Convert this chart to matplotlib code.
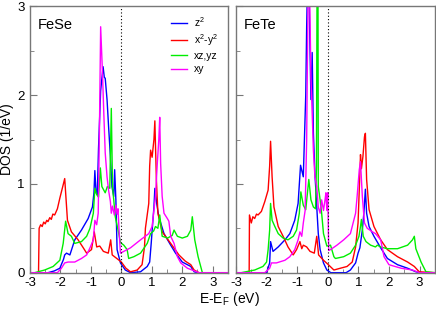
import matplotlib
matplotlib.use('Agg')
import matplotlib.pyplot as plt

plt.rcParams['font.family'] = ['Liberation Sans', 'DejaVu Sans']
plt.rcParams['mathtext.fontset'] = 'custom'
plt.rcParams['mathtext.rm'] = 'Liberation Sans'
plt.rcParams['mathtext.it'] = 'Liberation Sans:italic'
plt.rcParams['axes.unicode_minus'] = False

# ---- data: energy (eV) and DOS (1/eV) ----
panels = ['FeSe', 'FeTe']
orbitals = [r'z$\mathregular{^2}$', r'x$\mathregular{^2}$-y$\mathregular{^2}$', 'xz,yz', 'xy']
colors = ['#0000ff', '#ff0000', '#00ee00', '#ff00ff']

fese_z2_e = [-3, -2.41, -2.2, -2.02, -1.9, -1.86, -1.80, -1.69, -1.53, -1.31, -1.09, -0.95, -0.90, -0.87,
             -0.83, -0.79, -0.75, -0.68, -0.60, -0.56, -0.53, -0.47, -0.42, -0.36, -0.31, -0.25, -0.22,
             -0.18, -0.14, -0.03, 0.13, 0.30, 0.63, 0.85, 0.93, 0.98, 1.01, 1.07, 1.10, 1.16, 1.23, 1.40,
             1.62, 1.78, 2.0, 2.28, 2.39, 2.5, 3.5]
fese_z2_d = [0, 0, 0.02, 0.05, 0.15, 0.20, 0.22, 0.20, 0.37, 0.48, 0.61, 0.74, 0.90, 1.15,
             0.90, 0.88, 1.40, 2.05, 2.32, 2.20, 2.19, 1.95, 1.65, 1.31, 0.97, 0.86, 1.16,
             0.82, 0.26, 0.11, 0.03, 0, 0.01, 0.07, 0.12, 0.33, 0.47, 0.74, 0.95, 0.78, 0.63, 0.44,
             0.31, 0.22, 0.12, 0.07, 0.01, 0, 0]

fese_x2y2_e = [-3.0, -2.72, -2.70, -2.65, -2.6, -2.55, -2.5, -2.45, -2.41, -2.35, -2.3, -2.25, -2.19, -2.1,
               -2.02, -1.91, -1.86, -1.82, -1.77, -1.64, -1.42, -1.25, -1.14, -0.98, -0.89, -0.81, -0.71,
               -0.59, -0.43, -0.35, -0.30, -0.15, 0.0, 0.15, 0.30, 0.52, 0.68, 0.76, 0.79, 0.90, 0.93, 0.96,
               1.01, 1.07, 1.10, 1.15, 1.20, 1.34, 1.62, 1.89, 2.1, 2.28, 2.39, 2.55, 3.5]
fese_x2y2_d = [0, 0, 0.50, 0.54, 0.52, 0.57, 0.55, 0.59, 0.575, 0.62, 0.60, 0.66, 0.65, 0.72,
               0.84, 0.99, 1.06, 0.85, 0.59, 0.46, 0.37, 0.28, 0.22, 0.26, 0.46, 0.29, 0.30,
               0.24, 0.22, 0.37, 0.20, 0.16, 0.12, 0.05, 0.01, 0.03, 0.09, 0.29, 0.50, 0.78, 1.20, 1.38,
               1.30, 1.50, 1.71, 1.05, 0.67, 0.46, 0.33, 0.20, 0.13, 0.09, 0.03, 0, 0]

fese_xzyz_e = [-3, -2.85, -2.52, -2.24, -2.02, -1.91, -1.83, -1.75, -1.64, -1.53, -1.31, -1.14, -1.03, -0.92,
               -0.87, -0.81, -0.75, -0.69, -0.64, -0.53, -0.46, -0.38, -0.33, -0.29, -0.20, -0.09, -0.03,
               0.08, 0.19, 0.24, 0.41, 0.63, 0.85, 0.96, 1.06, 1.12, 1.20, 1.26, 1.34, 1.52, 1.67, 1.73,
               1.84, 2.0, 2.17, 2.28, 2.33, 2.41, 2.52, 2.66, 3.5]
fese_xzyz_d = [0, 0, 0.03, 0.07, 0.14, 0.33, 0.58, 0.44, 0.41, 0.33, 0.35, 0.41, 0.50, 0.67,
               0.95, 0.88, 0.85, 1.18, 0.97, 0.90, 0.97, 0.95, 1.85, 0.97, 0.63, 0.45, 0.34,
               0.31, 0.26, 0.16, 0.18, 0.22, 0.33, 0.44, 0.47, 0.52, 0.50, 0.65, 0.41, 0.39, 0.42, 0.48,
               0.41, 0.39, 0.41, 0.48, 0.63, 0.37, 0.18, 0, 0]

fese_xy_e = [-3, -2.1, -1.97, -1.86, -1.75, -1.53, -1.31, -1.14, -1.03, -0.92, -0.87, -0.81, -0.76, -0.72,
             -0.68, -0.62, -0.58, -0.53, -0.47, -0.42, -0.36, -0.33, -0.29, -0.23, -0.18, -0.14, -0.11,
             -0.07, -0.03, 0.30, 0.63, 0.90, 1.01, 1.12, 1.18, 1.23, 1.26, 1.29, 1.34, 1.40, 1.51, 1.56,
             1.62, 1.73, 1.84, 1.95, 2.17, 2.4, 2.55, 3.5]
fese_xy_d = [0, 0, 0.05, 0.11, 0.12, 0.12, 0.16, 0.20, 0.28, 0.37, 0.59, 0.54, 0.67, 1.6,
             2.77, 2.25, 1.83, 1.35, 1.08, 0.93, 0.80, 0.67, 0.75, 0.65, 0.76, 0.66, 0.72,
             0.44, 0.22, 0.28, 0.37, 0.44, 0.52, 0.86, 1.23, 1.50, 1.75, 1.23, 0.86, 0.67, 0.61, 0.58,
             0.41, 0.33, 0.18, 0.11, 0.05, 0.02, 0, 0]

fete_z2_e = [-3, -2.0, -1.9, -1.87, -1.79, -1.62, -1.40, -1.24, -1.08, -0.97, -0.89, -0.80, -0.72, -0.69,
             -0.66, -0.62, -0.58, -0.55, -0.51, -0.47, -0.42, -0.36, -0.31, -0.25, -0.14, -0.03, 0.1,
             0.6, 0.74, 0.91, 0.99, 1.05, 1.13, 1.18, 1.23, 1.27, 1.35, 1.51, 1.73, 1.95, 2.28, 2.61,
             2.88, 3.0, 3.5]
fete_z2_d = [0, 0, 0.11, 0.35, 0.24, 0.29, 0.37, 0.44, 0.59, 0.78, 1.21, 1.08, 2.0, 2.77,
             3.3, 3.3, 2.51, 1.95, 2.48, 1.57, 1.12, 0.74, 0.44, 0.26, 0.11, 0.03, 0,
             0, 0.03, 0.11, 0.22, 0.28, 0.48, 0.67, 0.94, 0.67, 0.52, 0.41, 0.28, 0.16, 0.09, 0.05,
             0.01, 0, 0]

fete_x2y2_e = [-3, -2.57, -2.56, -2.5, -2.45, -2.39, -2.33, -2.28, -2.17, -2.06, -1.95, -1.90, -1.87, -1.82,
               -1.76, -1.62, -1.46, -1.30, -1.13, -1.02, -0.91, -0.85, -0.80, -0.69, -0.58, -0.44, -0.36,
               -0.30, -0.14, 0.02, 0.2, 0.41, 0.63, 0.80, 0.91, 0.99, 1.05, 1.07, 1.10, 1.15, 1.20, 1.23,
               1.27, 1.35, 1.51, 1.73, 1.95, 2.28, 2.61, 2.83, 2.99, 3.5]
fete_x2y2_d = [0, 0, 0.65, 0.56, 0.63, 0.61, 0.66, 0.65, 0.69, 0.80, 0.93, 1.20, 1.48, 1.08,
               0.74, 0.52, 0.41, 0.29, 0.20, 0.26, 0.35, 0.27, 0.31, 0.29, 0.24, 0.22, 0.41,
               0.20, 0.14, 0.09, 0.03, 0.05, 0.07, 0.12, 0.29, 0.56, 1.12, 1.33, 1.17, 1.31, 1.53, 1.57,
               1.05, 0.71, 0.52, 0.37, 0.26, 0.18, 0.12, 0.07, 0.01, 0]

fete_xzyz_e = [-3, -2.83, -2.39, -2.12, -2.0, -1.95, -1.90, -1.87, -1.82, -1.73, -1.62, -1.46, -1.30, -1.13,
               -1.02, -0.93, -0.88, -0.80, -0.72, -0.62, -0.55, -0.47, -0.40, -0.37, -0.35, -0.32, -0.31,
               -0.25, -0.20, -0.14, -0.03, 0.09, 0.20, 0.25, 0.52, 0.74, 0.91, 1.02, 1.07, 1.10, 1.16, 1.25,
               1.40, 1.56, 1.62, 1.73, 1.95, 2.28, 2.61, 2.77, 2.83, 2.88, 3.05, 3.21, 3.5]
fete_xzyz_d = [0, 0, 0.03, 0.07, 0.12, 0.26, 0.48, 0.78, 0.59, 0.52, 0.44, 0.39, 0.37, 0.41,
               0.48, 0.67, 0.91, 0.76, 0.71, 1.05, 0.82, 0.74, 0.72, 1.2, 3.3, 3.3, 0.97,
               0.82, 0.67, 0.44, 0.30, 0.31, 0.18, 0.16, 0.18, 0.22, 0.31, 0.41, 0.52, 0.60, 0.41, 0.35,
               0.31, 0.29, 0.31, 0.29, 0.27, 0.27, 0.31, 0.37, 0.41, 0.27, 0.12, 0.01, 0]

fete_xy_e = [-3, -2.06, -1.9, -1.84, -1.68, -1.40, -1.24, -1.08, -0.97, -0.91, -0.85, -0.80, -0.74, -0.69,
             -0.64, -0.60, -0.55, -0.51, -0.47, -0.42, -0.36, -0.31, -0.25, -0.20, -0.14, -0.09, -0.06,
             -0.03, 0.0, 0.03, 0.09, 0.30, 0.52, 0.74, 0.91, 0.96, 1.03, 1.07, 1.13, 1.20, 1.29, 1.46,
             1.56, 1.73, 1.84, 2.0, 2.4, 2.77, 3.0, 3.5]
fete_xy_d = [0, 0, 0.05, 0.11, 0.11, 0.14, 0.18, 0.26, 0.37, 0.46, 0.41, 0.56, 0.70, 1.5,
             3.3, 3.3, 2.2, 1.8, 1.38, 1.08, 0.97, 0.74, 0.67, 0.82, 0.70, 0.82, 0.90,
             0.70, 0.90, 0.25, 0.26, 0.31, 0.37, 0.44, 0.67, 0.86, 1.16, 1.25, 0.86, 0.56, 0.50, 0.46,
             0.44, 0.37, 0.18, 0.09, 0.05, 0.03, 0, 0]

curves = {
    'FeSe': [(fese_z2_e, fese_z2_d), (fese_x2y2_e, fese_x2y2_d), (fese_xzyz_e, fese_xzyz_d), (fese_xy_e, fese_xy_d)],
    'FeTe': [(fete_z2_e, fete_z2_d), (fete_x2y2_e, fete_x2y2_d), (fete_xzyz_e, fete_xzyz_d), (fete_xy_e, fete_xy_d)],
}

fig = plt.figure(figsize=(4.36, 3.13), dpi=100)
ax1 = fig.add_axes([0.0688, 0.1288, 0.454, 0.851])
ax2 = fig.add_axes([0.5413, 0.1288, 0.456, 0.851])
frame_col = '#777777'

for ax, name in zip([ax1, ax2], panels):
    for (e, d), col, lab in zip(curves[name], colors, orbitals):
        ax.plot(e, d, color=col, lw=1.0, label=lab)
    ax.axvline(0, color='black', lw=0.8, ls=(0, (1, 2)))
    ax.set_xlim(-3, 3.5)
    ax.set_ylim(0, 3)
    ax.set_xticks([-3, -2, -1, 0, 1, 2, 3])
    ax.set_xticks([-2.5, -1.5, -0.5, 0.5, 1.5, 2.5], minor=True)
    ax.set_yticks([0, 1, 2, 3])
    ax.set_yticks([0.5, 1.5, 2.5], minor=True)
    ax.tick_params(which='both', direction='in', color=frame_col, labelsize=9.5)
    ax.tick_params(axis='x', pad=3)
    ax.tick_params(axis='y', pad=4)
    ax.tick_params(which='major', length=5)
    ax.tick_params(which='minor', length=3)
    for s in ax.spines.values():
        s.set_color(frame_col)
        s.set_linewidth(1.0)
    ax.text(0.04, 0.955, name, transform=ax.transAxes, fontsize=10.5, va='top', ha='left')

ax2.set_yticklabels([])
ax1.set_ylabel('DOS (1/eV)', fontsize=10, labelpad=2)
fig.text(0.527, 0.015, r'E-E$\mathregular{_F}$ (eV)', fontsize=10, ha='center', va='bottom')

ax1.legend(loc='upper right', bbox_to_anchor=(0.98, 0.99), frameon=False, fontsize=7.5,
           handlelength=1.6, handletextpad=0.6, labelspacing=0.3, borderaxespad=0.2)

fig.savefig('out.png', dpi=100)
